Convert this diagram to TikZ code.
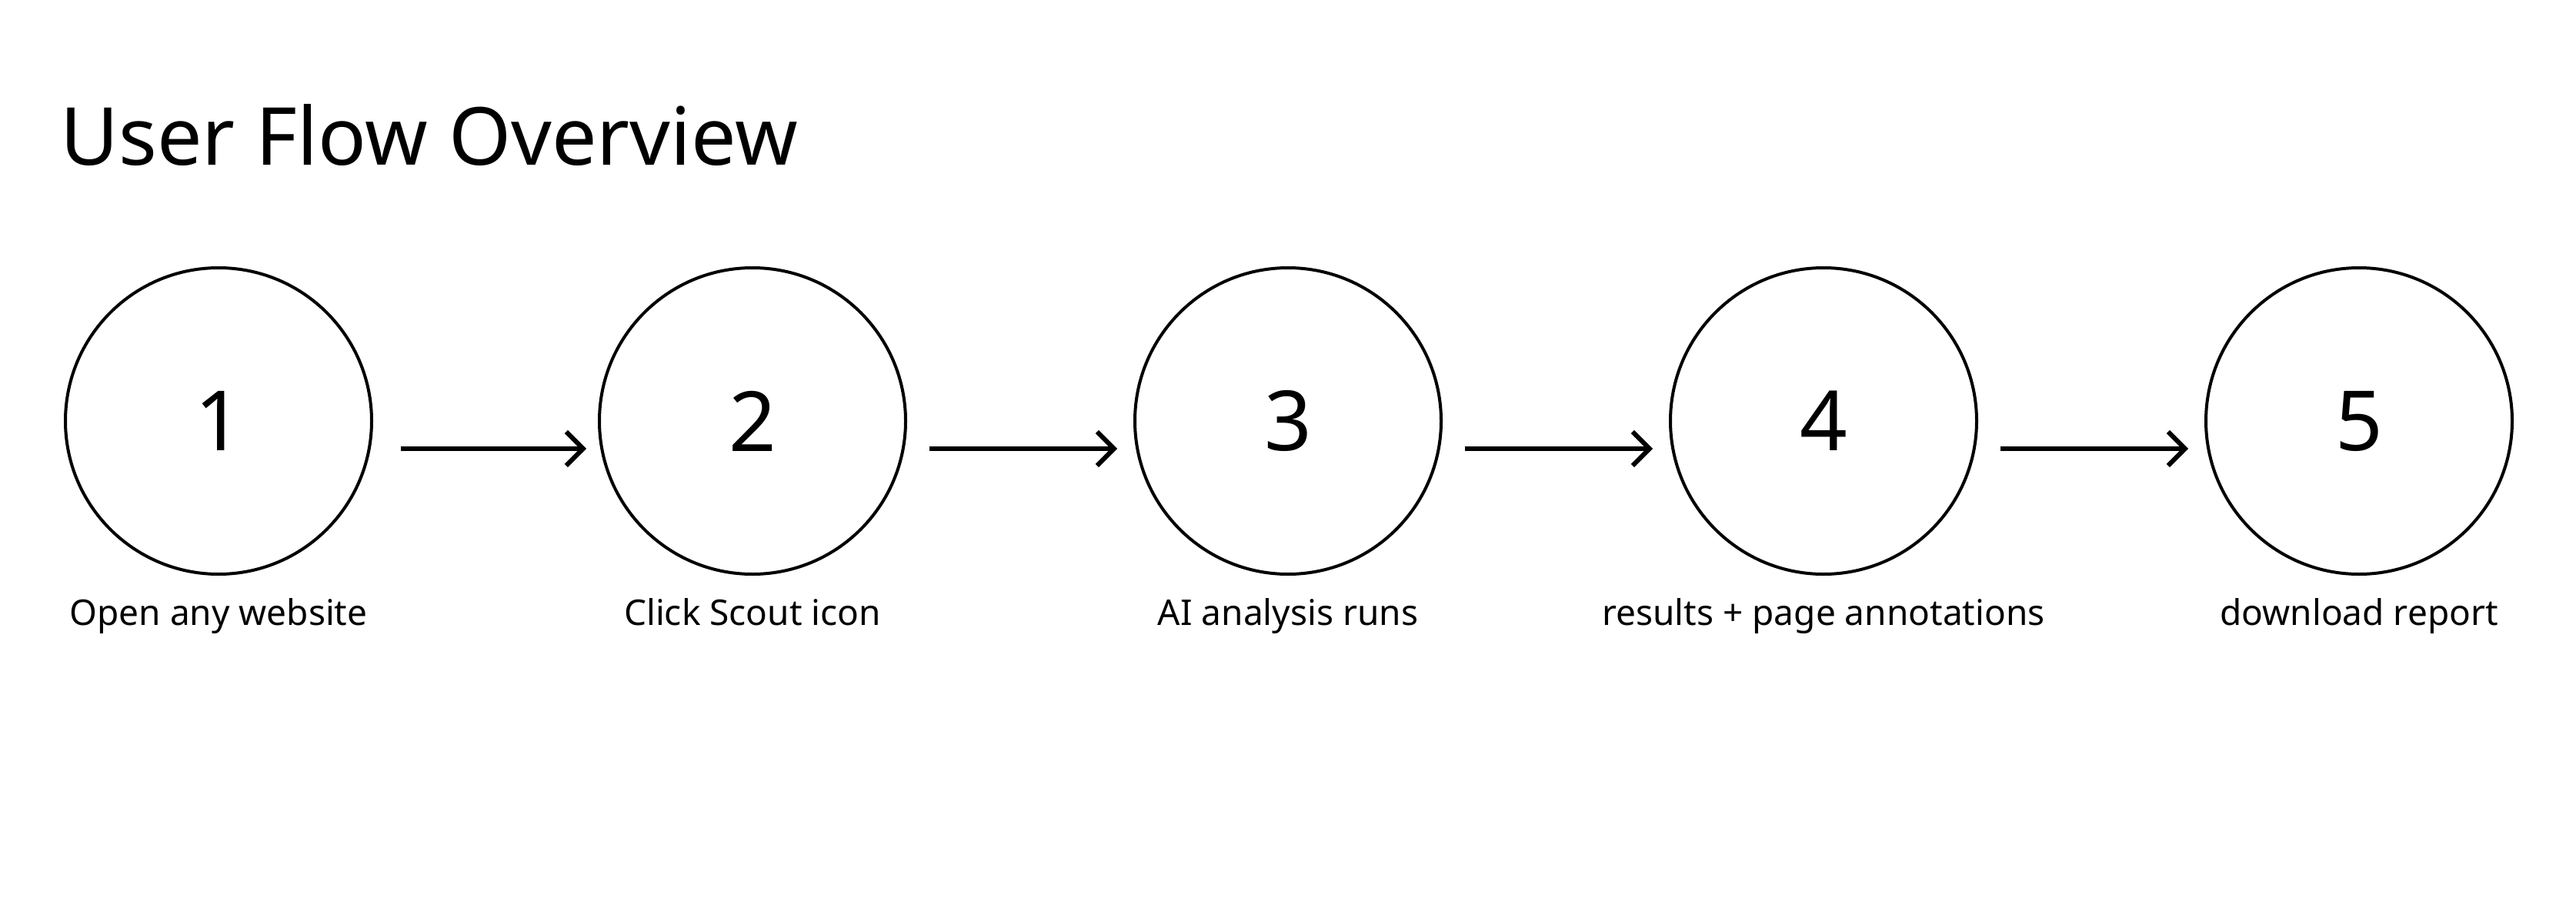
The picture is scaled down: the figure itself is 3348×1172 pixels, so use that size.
\documentclass[tikz,border=0pt]{standalone}
\usepackage{fontspec}
\setmainfont{Noto Sans}
\usetikzlibrary{arrows.meta}
\begin{document}
\begin{tikzpicture}[x=1pt,y=-1pt,
  stepcirc/.style={circle,draw,line width=4pt,minimum size=398pt,inner sep=0pt,font=\fontsize{108}{120}\selectfont},
  steplab/.style={font=\fontsize{46}{52}\selectfont,anchor=base},
  flow/.style={line width=6pt,-{Straight Barb[length=22pt,width=44pt,line width=6pt]}}]
\useasboundingbox (0,0) rectangle (3348,1172);
\node[anchor=base west,font=\fontsize{104}{120}\selectfont,inner sep=0pt] (title) at (78,214) {User Flow Overview};
\foreach \i/\x/\t in {1/284/Open any website,2/978/Click Scout icon,3/1674/AI analysis runs,4/2370/results + page annotations,5/3066/download report}{
  \node[stepcirc] (c\i) at (\x,547) {\i};
  \node[steplab] (l\i) at (\x,812) {\t};
}
\coordinate (a1) at (521,583); \coordinate (b1) at (762,583);
\coordinate (a2) at (1208,583); \coordinate (b2) at (1452,583);
\coordinate (a3) at (1904,583); \coordinate (b3) at (2148,583);
\coordinate (a4) at (2600,583); \coordinate (b4) at (2844,583);
\foreach \i in {1,...,4}{\draw[flow] (a\i) -- (b\i);}
\end{tikzpicture}
\end{document}
